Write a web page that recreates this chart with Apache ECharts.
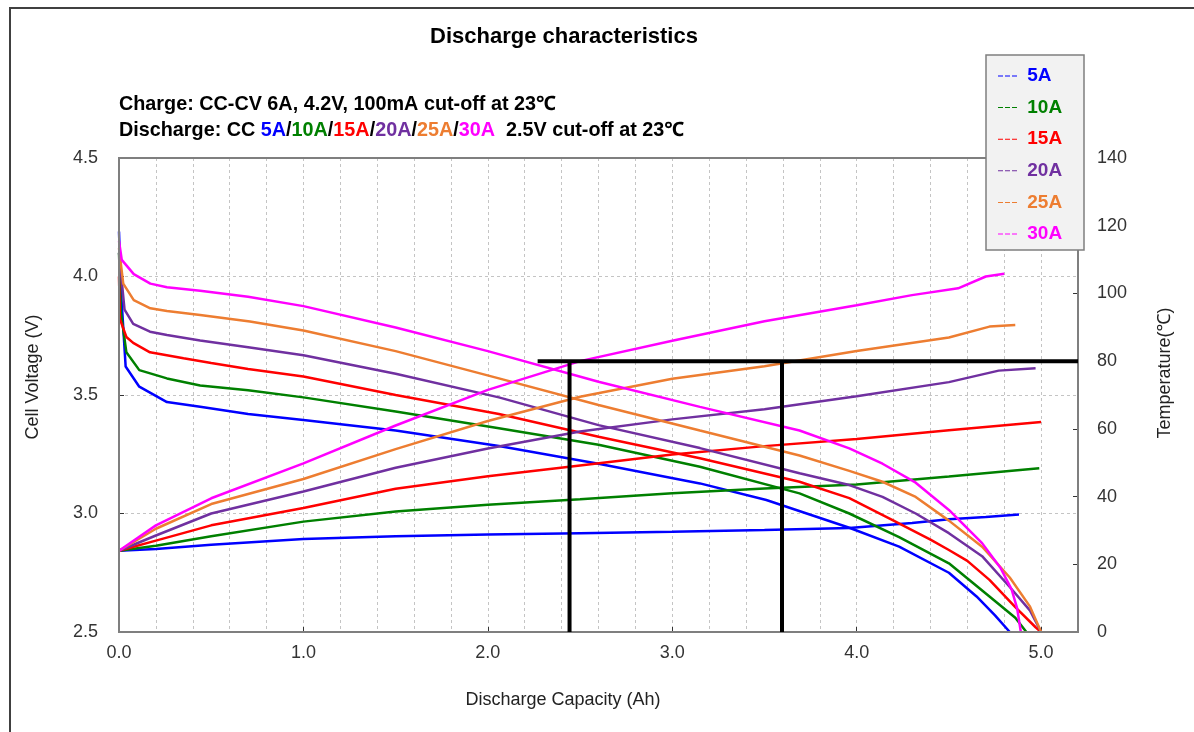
<!DOCTYPE html>
<html><head><meta charset="utf-8">
<script src="https://cdn.jsdelivr.net/npm/echarts@6/dist/echarts.min.js"></script>
<style>html,body{margin:0;padding:0;background:#fff}#c{width:1194px;height:732px}</style>
</head><body><div id="c"></div>
<script>
// ---- data ----
const seriesNames = ['5A', '10A', '15A', '20A', '25A', '30A'];
const seriesColors = ['#0000ff', '#008000', '#ff0000', '#7030a0', '#ed7d31', '#ff00ff'];

// Cell voltage (V) vs discharge capacity (Ah)
const volt5A = [[0,4.19],[0.01,3.95],[0.036,3.62],[0.11,3.535],[0.26,3.47],[0.44,3.45],[0.7,3.42],[1.0,3.395],[1.5,3.35],[2.06,3.285],[2.6,3.21],[3.15,3.127],[3.51,3.057],[3.96,2.94],[4.23,2.86],[4.5,2.75],[4.65,2.65],[4.75,2.57],[4.83,2.5]];
const volt10A = [[0,4.1],[0.01,3.85],[0.04,3.68],[0.11,3.605],[0.26,3.57],[0.44,3.54],[0.7,3.52],[1.0,3.49],[1.5,3.43],[2.06,3.36],[2.6,3.29],[3.15,3.197],[3.69,3.085],[3.96,3.0],[4.23,2.9],[4.5,2.79],[4.72,2.65],[4.86,2.56],[4.92,2.5]];
const volt15A = [[0,4.0],[0.005,3.82],[0.04,3.745],[0.077,3.72],[0.168,3.68],[0.35,3.655],[0.5,3.635],[0.7,3.61],[1.0,3.578],[1.5,3.5],[2.06,3.42],[2.6,3.324],[3.15,3.233],[3.69,3.134],[3.96,3.065],[4.2,2.97],[4.4,2.89],[4.5,2.846],[4.6,2.8],[4.72,2.72],[4.86,2.605],[4.97,2.52],[5.0,2.5]];
const volt20A = [[0,4.1],[0.03,3.86],[0.077,3.8],[0.168,3.767],[0.26,3.753],[0.44,3.73],[0.71,3.7],[1.0,3.668],[1.5,3.59],[2.06,3.49],[2.6,3.373],[3.15,3.276],[3.69,3.17],[3.96,3.12],[4.14,3.07],[4.32,3.0],[4.5,2.917],[4.68,2.82],[4.83,2.69],[4.94,2.59],[5.0,2.5]];
const volt25A = [[0,4.12],[0.023,3.97],[0.08,3.9],[0.17,3.866],[0.26,3.854],[0.44,3.838],[0.71,3.81],[1.0,3.772],[1.5,3.685],[2.06,3.57],[2.6,3.458],[3.15,3.35],[3.69,3.245],[3.96,3.18],[4.14,3.134],[4.32,3.07],[4.5,2.97],[4.68,2.86],[4.83,2.73],[4.94,2.607],[5.0,2.5]];
const volt30A = [[0,4.15],[0.015,4.07],[0.08,4.01],[0.17,3.97],[0.26,3.955],[0.44,3.94],[0.7,3.915],[1.0,3.875],[1.5,3.785],[2.0,3.685],[2.6,3.556],[3.15,3.45],[3.69,3.35],[3.96,3.275],[4.14,3.21],[4.32,3.13],[4.5,3.015],[4.68,2.875],[4.78,2.77],[4.84,2.68],[4.87,2.6],[4.89,2.5]];

// Cell temperature (°C) vs discharge capacity (Ah)
const temp5A = [[0,24],[0.2,24.5],[0.5,25.8],[1.0,27.5],[1.5,28.3],[2.0,28.8],[2.5,29.2],[3.0,29.6],[3.5,30.1],[3.96,30.7],[4.3,32.2],[4.5,33.3],[4.7,34.0],[4.88,34.7]];
const temp10A = [[0,24],[0.2,25.5],[0.5,28.3],[1.0,32.6],[1.5,35.6],[2.0,37.6],[2.5,39.2],[3.0,41.0],[3.5,42.4],[4.0,43.6],[4.5,45.9],[4.99,48.4]];
const temp15A = [[0,24],[0.2,27],[0.5,31.5],[1.0,36.6],[1.5,42.3],[2.0,46.0],[2.5,49.2],[3.0,52.4],[3.5,54.9],[4.0,57.0],[4.5,59.6],[5.0,62.0]];
const temp20A = [[0,24],[0.2,28.5],[0.5,35],[1.0,41.5],[1.5,48.5],[2.0,54.2],[2.5,59.2],[3.0,62.8],[3.5,65.8],[4.0,69.6],[4.5,73.8],[4.77,77.2],[4.97,77.9]];
const temp25A = [[0,24],[0.2,30.5],[0.5,37.8],[1.0,45.2],[1.5,54],[2.0,62.3],[2.5,69.5],[3.0,74.8],[3.5,78.5],[4.0,83],[4.5,87],[4.72,90.2],[4.86,90.7]];
const temp30A = [[0,24],[0.2,31.5],[0.5,39.5],[1.0,49.8],[1.5,61],[2.0,71.5],[2.5,80],[3.0,86],[3.5,91.8],[4.0,96.5],[4.3,99.5],[4.55,101.5],[4.7,105],[4.8,105.8]];

const voltData = [volt5A, volt10A, volt15A, volt20A, volt25A, volt30A];
const tempData = [temp5A, temp10A, temp15A, temp20A, temp25A, temp30A];

// annotation guide lines (capacity Ah, temperature °C)
const guideH = [[2.27,80],[5.2,80]];
const guideV1 = [[2.443,0],[2.443,80]];
const guideV2 = [[3.595,0],[3.595,80]];

// axis ranges / ticks
const xRange = [0, 5.2];
const voltRange = [2.5, 4.5];
const tempRange = [0, 140];

const titleText = 'Discharge characteristics';
const chargeText = 'Charge: CC-CV 6A, 4.2V, 100mA cut-off at 23℃';
const xName = 'Discharge Capacity (Ah)';
const yName = 'Cell Voltage (V)';
const y2Name = 'Temperature(℃)';

// ---- chart ----
const FF = '"Liberation Sans", Arial, "Noto Sans", sans-serif';
const chart = echarts.init(document.getElementById('c'), null, {renderer: 'canvas'});

const series = [];
seriesNames.forEach((n, i) => {
  series.push({name: n, type: 'line', xAxisIndex: 0, yAxisIndex: 0, data: voltData[i],
    symbol: 'none', lineStyle: {width: 2.5, color: seriesColors[i]}, itemStyle: {color: seriesColors[i]}, z: 2});
  series.push({name: n, type: 'line', xAxisIndex: 0, yAxisIndex: 1, data: tempData[i],
    symbol: 'none', lineStyle: {width: 2.5, color: seriesColors[i]}, itemStyle: {color: seriesColors[i]}, z: 2});
});
[guideH, guideV1, guideV2].forEach(g => {
  series.push({type: 'line', xAxisIndex: 0, yAxisIndex: 1, data: g, symbol: 'none', silent: true,
    lineStyle: {width: 4, color: '#000'}, z: 6});
});

const SUB = 19.8;
const richSub = {};
const keys = ['b','g','r','p','o','m'];
keys.forEach((k, i) => { richSub[k] = {fill: seriesColors[i], fontSize: SUB, fontWeight: 'bold', fontFamily: FF}; });
const dischargeText = 'Discharge: CC ' + seriesNames.map((n, i) => '{' + keys[i] + '|' + n + '}').join('/') + '  2.5V cut-off at 23℃';

const option = {
  animation: false,
  backgroundColor: '#fff',
  grid: {left: 119, top: 158, right: 116, bottom: 100, show: false},
  xAxis: [
    {type: 'value', min: xRange[0], max: xRange[1], interval: 0.2,
      axisLabel: {show: false}, axisTick: {show: false}, axisLine: {show: false, onZero: false},
      splitLine: {show: true, lineStyle: {color: '#c4c4c4', type: [3, 3], width: 1}}},
    {type: 'value', min: xRange[0], max: xRange[1], interval: 1, position: 'bottom',
      axisLine: {show: false, onZero: false}, splitLine: {show: false},
      axisTick: {show: true, inside: true, length: 5, lineStyle: {color: '#333'}},
      axisLabel: {color: '#333', fontSize: 18, fontFamily: FF, margin: 12,
        formatter: v => Math.abs(v - Math.round(v)) < 1e-6 ? v.toFixed(1) : ''}}
  ],
  yAxis: [
    {type: 'value', min: voltRange[0], max: voltRange[1], interval: 0.5, position: 'left',
      axisLine: {show: false, onZero: false},
      axisTick: {show: true, inside: true, length: 5, lineStyle: {color: '#333'}},
      axisLabel: {color: '#333', fontSize: 18, fontFamily: FF, margin: 21, formatter: v => v.toFixed(1)},
      splitLine: {show: true, lineStyle: {color: '#c4c4c4', type: [3, 3], width: 1}}},
    {type: 'value', min: tempRange[0], max: tempRange[1], interval: 20, position: 'right',
      axisLine: {show: false, onZero: false},
      axisTick: {show: true, inside: true, length: 5, lineStyle: {color: '#333'}},
      axisLabel: {color: '#333', fontSize: 18, fontFamily: FF, margin: 19},
      splitLine: {show: false}}
  ],
  legend: {
    orient: 'vertical', left: 998, top: 65, padding: 0,
    itemWidth: 19, itemHeight: 2, itemGap: 9.6,
    icon: 'path://M0,0h5v1h-5z M7,0h5v1h-5z M14,0h5v1h-5z',
    data: seriesNames.map((n, i) => ({name: n, textStyle: {color: seriesColors[i]},
      itemStyle: {color: seriesColors[i], borderWidth: 0}})),
    formatter: n => ' ' + n,
    textStyle: {fontSize: 19, fontWeight: 'bold', fontFamily: FF, lineHeight: 22},
    z: 8
  },
  series: series,
  graphic: {elements: [
    {type: 'rect', shape: {x: 10, y: 8, width: 1200, height: 800}, style: {fill: 'none', stroke: '#404040', lineWidth: 2}, z: 0, silent: true},
    {type: 'rect', shape: {x: 119, y: 158, width: 959, height: 474}, style: {fill: 'none', stroke: '#7f7f7f', lineWidth: 2}, z: 5, silent: true},
    {type: 'rect', shape: {x: 986, y: 55, width: 98, height: 195}, style: {fill: '#f2f2f2', stroke: '#7f7f7f', lineWidth: 1.5}, z: 7, silent: true},
    {type: 'text', x: 564, y: 37, style: {text: titleText, fill: '#000', fontSize: 22, fontWeight: 'bold', fontFamily: FF, align: 'center', verticalAlign: 'middle'}, z: 9},
    {type: 'text', x: 119, y: 105, style: {text: chargeText, fill: '#000', fontSize: SUB, fontWeight: 'bold', fontFamily: FF, align: 'left', verticalAlign: 'middle'}, z: 9},
    {type: 'text', x: 119, y: 131, style: {text: dischargeText, rich: richSub, fill: '#000', fontSize: SUB, fontWeight: 'bold', fontFamily: FF, align: 'left', verticalAlign: 'middle'}, z: 9},
    {type: 'text', x: 563, y: 700, style: {text: xName, fill: '#222', fontSize: 18, fontFamily: FF, align: 'center', verticalAlign: 'middle'}, z: 9},
    {type: 'text', x: 33, y: 377, rotation: Math.PI / 2, style: {text: yName, fill: '#222', fontSize: 18, fontFamily: FF, align: 'center', verticalAlign: 'middle'}, z: 9},
    {type: 'text', x: 1165, y: 373, rotation: Math.PI / 2, style: {text: y2Name, fill: '#222', fontSize: 18, fontFamily: FF, align: 'center', verticalAlign: 'middle'}, z: 9}
  ]}
};
chart.setOption(option);
</script>
</body></html>
